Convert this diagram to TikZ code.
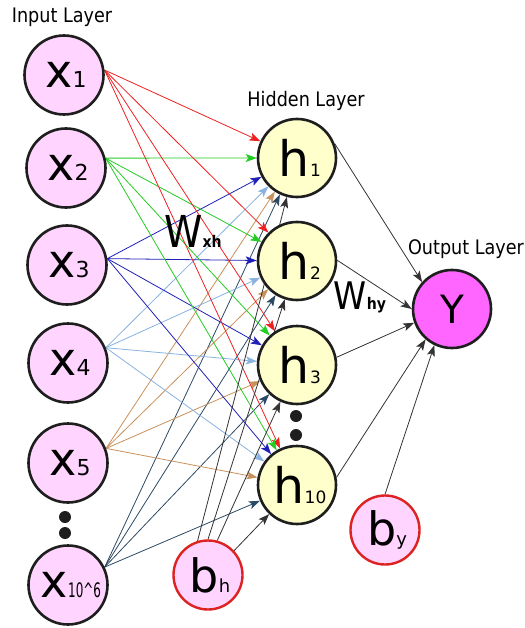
\documentclass[tikz,border=0pt]{standalone}
\usepackage{fontspec}
\setmainfont{DejaVu Sans}
\usetikzlibrary{arrows.meta,backgrounds}
\definecolor{inpink}{HTML}{FFD5FF}
\definecolor{hidyel}{HTML}{FFFFCC}
\definecolor{outmag}{HTML}{FF66FF}
\definecolor{biasred}{HTML}{DD2222}
\definecolor{ered}{HTML}{EE2020}
\definecolor{egreen}{HTML}{22CC22}
\definecolor{eblue}{HTML}{2020B8}
\definecolor{elblue}{HTML}{88B2E0}
\definecolor{etan}{HTML}{C8905A}
\definecolor{edark}{HTML}{2C4A64}
\definecolor{egrey}{HTML}{333333}
\definecolor{nborder}{HTML}{1E1E1E}
\newcommand{\fsz}[2]{{\fontsize{#1}{#1}\selectfont #2}}
\tikzset{
 neuron/.style={circle, draw=nborder, line width=2.6pt, minimum size=79pt, inner sep=0pt},
 inp/.style={neuron, fill=inpink},
 hid/.style={neuron, fill=hidyel, minimum size=78pt},
 outn/.style={neuron, fill=outmag, minimum size=78pt},
 bias/.style={circle, draw=biasred, line width=2.4pt, fill=inpink, minimum size=69pt, inner sep=0pt},
 conn/.style={line width=0.8pt, -{Stealth[length=11pt,width=8pt,inset=2.5pt]}},
 lbl/.style={inner sep=0pt},
 dotn/.style={circle, fill=nborder, minimum size=12pt, inner sep=0pt},
}
\begin{document}
\begin{tikzpicture}[x=1pt,y=-1pt]
\useasboundingbox (0,0) rectangle (524,628);
% input layer
\node[inp] (x1) at (64,75) {\hspace{4pt}\fsz{46}{x}\fsz{22}{1}};
\node[inp] (x2) at (66,168) {\hspace{4pt}\fsz{46}{x}\fsz{22}{2}};
\node[inp] (x3) at (67,265) {\hspace{4pt}\fsz{46}{x}\fsz{22}{3}};
\node[inp] (x4) at (68,363) {\hspace{4pt}\fsz{46}{x}\fsz{22}{4}};
\node[inp] (x5) at (68,463) {\hspace{4pt}\fsz{46}{x}\fsz{22}{5}};
\node[inp] (x6) at (68,585) {\hspace{6pt}\fsz{46}{x}\scalebox{0.6}[1]{\fsz{20}{10\^{}6}}};
\node[dotn] (xd1) at (65,517) {};
\node[dotn] (xd2) at (65,533) {};
% hidden layer
\node[hid] (h1) at (297,158) {\hspace{5pt}\fsz{49}{h}\hspace{1pt}\fsz{17}{1}};
\node[hid] (h2) at (297,261) {\hspace{5pt}\fsz{49}{h}\hspace{1pt}\fsz{17}{2}};
\node[hid] (h3) at (297,365) {\hspace{5pt}\fsz{49}{h}\hspace{1pt}\fsz{17}{3}};
\node[hid] (h10) at (297,485) {\hspace{6pt}\fsz{49}{h}\fsz{17}{10}};
\node[dotn] (hd1) at (296,416) {};
\node[dotn] (hd2) at (296,435) {};
% output
\node[outn] (Y) at (452,309) {\fsz{39}{Y}};
% biases
\node[bias] (bh) at (208,575) {\hspace{4pt}\fsz{46}{b}\fsz{18}{h}};
\node[bias] (by) at (385,530) {\hspace{4pt}\fsz{46}{b}\fsz{18}{y}};
% labels
\node[lbl] (lin) at (62,17) {\scalebox{0.88}[1]{\fsz{20}{Input Layer}}};
\node[lbl] (lhid) at (306,101) {\scalebox{0.88}[1]{\fsz{20}{Hidden Layer}}};
\node[lbl] (lout) at (466,249) {\scalebox{0.88}[1]{\fsz{20}{Output Layer}}};
\node[lbl] (wxh) at (193,231) {\scalebox{0.88}[1]{\fsz{44}{W}\fsz{16}{\bfseries xh}}};
\node[lbl] (why) at (360,297) {\scalebox{0.88}[1]{\fsz{38}{W}\fsz{16}{\bfseries hy}}};
\begin{pgfonlayer}{background}
\foreach \h in {h1,h2,h3,h10}{
  \draw[conn, ered] (x1.7) -- (\h);
  \draw[conn, egreen] (x2.14) -- (\h);
  \draw[conn, eblue] (x3.9) -- (\h);
  \draw[conn, elblue] (x4.22) -- (\h);
  \draw[conn, etan] (x5.21) -- (\h);
  \draw[conn, edark] (x6.26) -- (\h);
}
\draw[conn, egrey] (bh.107) -- (h1);
\draw[conn, egrey] (bh.90) -- (h2);
\draw[conn, egrey] (bh.75) -- (h3);
\draw[conn, egrey] (bh.43) -- (h10);
\draw[conn, egrey] (h1.21) -- (Y.138);
\draw[conn, egrey] (h2.1) -- (Y.180);
\draw[conn, egrey] (h3.11) -- (Y.200);
\draw[conn, egrey] (h10.11) -- (Y.229);
\draw[conn, egrey] (by.north) -- (Y.244);
\end{pgfonlayer}
\end{tikzpicture}
\end{document}
